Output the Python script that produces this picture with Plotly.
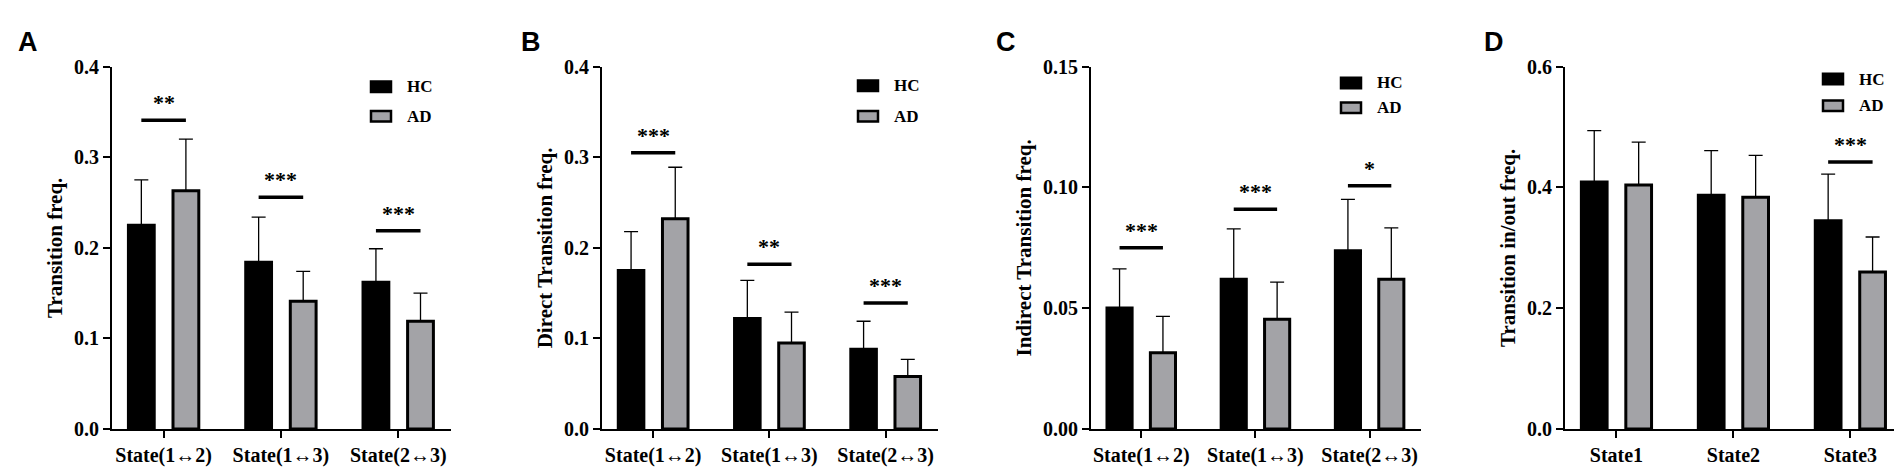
import plotly.graph_objects as go

W, H = 1902, 474

# categories
pair_states = ["State(1↔2)", "State(1↔3)", "State(2↔3)"]
single_states = ["State1", "State2", "State3"]

# panel A - Transition freq.
a_hc_mean = [0.225, 0.184, 0.162]
a_hc_sd = [0.050, 0.050, 0.037]
a_ad_mean = [0.263, 0.141, 0.119]
a_ad_sd = [0.057, 0.033, 0.031]
a_sig = ["**", "***", "***"]
a_sig_y = [0.341, 0.256, 0.219]

# panel B - Direct Transition freq.
b_hc_mean = [0.175, 0.122, 0.088]
b_hc_sd = [0.043, 0.042, 0.031]
b_ad_mean = [0.232, 0.095, 0.058]
b_ad_sd = [0.057, 0.034, 0.019]
b_sig = ["***", "**", "***"]
b_sig_y = [0.305, 0.182, 0.139]

# panel C - Indirect Transition freq.
c_hc_mean = [0.0501, 0.0620, 0.0738]
c_hc_sd = [0.0162, 0.0209, 0.0213]
c_ad_mean = [0.0316, 0.0454, 0.0620]
c_ad_sd = [0.0150, 0.0154, 0.0213]
c_sig = ["***", "***", "*"]
c_sig_y = [0.075, 0.091, 0.1007]

# panel D - Transition in/out freq.
d_hc_mean = [0.409, 0.387, 0.345]
d_hc_sd = [0.085, 0.074, 0.077]
d_ad_mean = [0.404, 0.384, 0.260]
d_ad_sd = [0.071, 0.069, 0.058]
d_sig = [None, None, "***"]
d_sig_y = [None, None, 0.442]

groups = ["HC", "AD"]
HC_COLOR = "#000000"
AD_COLOR = "#a3a3a7"
SERIF = "Times New Roman, Liberation Serif, serif"
SANS = "Arial, Liberation Sans, sans-serif"

panels = [
    dict(letter="A", cats=pair_states, hc=a_hc_mean, hc_sd=a_hc_sd, ad=a_ad_mean, ad_sd=a_ad_sd,
         sig=a_sig, sig_y=a_sig_y, title="Transition freq.", yrange=[0, 0.4], dtick=0.1, fmt=".1f",
         px=(104, 443), letter_px=(8, 6), leg_y=(71, 102)),
    dict(letter="B", cats=pair_states, hc=b_hc_mean, hc_sd=b_hc_sd, ad=b_ad_mean, ad_sd=b_ad_sd,
         sig=b_sig, sig_y=b_sig_y, title="Direct Transition freq.", yrange=[0, 0.4], dtick=0.1, fmt=".1f",
         px=(594, 930), letter_px=(511, 6), leg_y=(70, 102)),
    dict(letter="C", cats=pair_states, hc=c_hc_mean, hc_sd=c_hc_sd, ad=c_ad_mean, ad_sd=c_ad_sd,
         sig=c_sig, sig_y=c_sig_y, title="Indirect Transition freq.", yrange=[0, 0.15], dtick=0.05, fmt=".2f",
         px=(1083, 1413), letter_px=(986, 6), leg_y=(67, 93)),
    dict(letter="D", cats=single_states, hc=d_hc_mean, hc_sd=d_hc_sd, ad=d_ad_mean, ad_sd=d_ad_sd,
         sig=d_sig, sig_y=d_sig_y, title="Transition in/out freq.", yrange=[0, 0.6], dtick=0.2, fmt=".1f",
         px=(1557, 1895), letter_px=(1474, 6), leg_y=(63, 91)),
]

fig = go.Figure()
layout = dict(
    width=W, height=H,
    margin=dict(l=0, r=0, t=0, b=0),
    paper_bgcolor="white", plot_bgcolor="white",
    barmode="overlay", showlegend=False,
    shapes=[], annotations=[],
)

tick_font = dict(family=SERIF, size=20, color="black", weight="bold")
y_top, y_bot = 50, 430

for k, p in enumerate(panels):
    n = "" if k == 0 else str(k + 1)
    xa, ya = "x" + n, "y" + n

    for name, mean, sd, col, off in [("HC", p["hc"], p["hc_sd"], HC_COLOR, -0.30),
                                     ("AD", p["ad"], p["ad_sd"], AD_COLOR, 0.08)]:
        fig.add_trace(go.Bar(
            x=p["cats"], y=mean, name=name,
            width=0.22, offset=off,
            marker=dict(color=col, line=dict(color="black", width=3)),
            error_y=dict(type="data", array=sd, arrayminus=[0] * len(sd), symmetric=False,
                         color="black", thickness=1.3, width=7),
            xaxis=xa, yaxis=ya, showlegend=False,
        ))

    x0, x1 = p["px"]
    layout["xaxis" + n] = dict(
        domain=[x0 / W, x1 / W], anchor=ya, type="category", range=[-0.44, 2.45],
        showline=True, linecolor="black", linewidth=2,
        ticks="outside", ticklen=7, tickwidth=2, tickcolor="black",
        tickfont=tick_font, showgrid=False, zeroline=False,
    )
    layout["yaxis" + n] = dict(
        domain=[1 - y_bot / H, 1 - y_top / H], anchor=xa, range=p["yrange"],
        dtick=p["dtick"], tick0=0, tickformat=p["fmt"],
        showline=True, linecolor="black", linewidth=2,
        ticks="outside", ticklen=7, tickwidth=2, tickcolor="black",
        tickfont=tick_font, showgrid=False, zeroline=False,
        title=dict(text=p["title"], font=dict(family=SERIF, size=21, color="black", weight="bold"),
                   standoff=6),
    )

    # significance bars
    for i, (s, v) in enumerate(zip(p["sig"], p["sig_y"])):
        if s is None:
            continue
        layout["shapes"].append(dict(
            type="line", xref=xa, yref=ya, x0=i - 0.19, x1=i + 0.19, y0=v, y1=v,
            line=dict(color="black", width=3.5),
        ))
        layout["annotations"].append(dict(
            xref=xa, yref=ya, x=i, y=v, text=s, showarrow=False,
            yanchor="bottom", yshift=3,
            font=dict(family=SERIF, size=22, color="black", weight="bold"),
        ))

    # panel letter
    lx, ly = p["letter_px"]
    layout["annotations"].append(dict(
        xref="paper", yref="paper", x=lx / W, y=1 - ly / H, text=p["letter"],
        showarrow=False, xanchor="left", yanchor="top",
        font=dict(family=SANS, size=27, color="black", weight="bold"),
    ))

    # legend (drawn per panel)
    sw_x0 = x1 - 80
    for name, col, yc in zip(groups, [HC_COLOR, AD_COLOR], p["leg_y"]):
        layout["shapes"].append(dict(
            type="rect", xref="paper", yref="paper",
            x0=sw_x0 / W, x1=(sw_x0 + 20) / W, y0=1 - (yc + 5.5) / H, y1=1 - (yc - 5.5) / H,
            fillcolor=col, line=dict(color="black", width=2.5),
        ))
        layout["annotations"].append(dict(
            xref="paper", yref="paper", x=(sw_x0 + 34) / W, y=1 - yc / H, text=name,
            showarrow=False, xanchor="left", yanchor="middle",
            font=dict(family=SERIF, size=17, color="black", weight="bold"),
        ))

fig.update_layout(**layout)
fig.write_html("out.html")
